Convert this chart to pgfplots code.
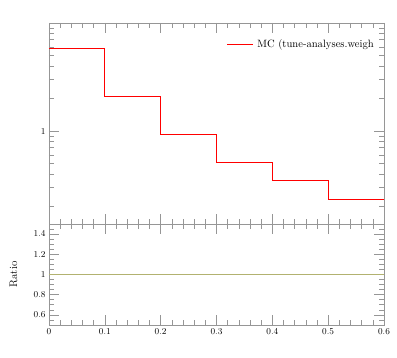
\documentclass[border=0pt]{standalone}
\usepackage{pgfplots}
\pgfplotsset{compat=1.18}
\definecolor{axgray}{RGB}{150,150,150}
\definecolor{ratiocol}{RGB}{178,178,112}
\begin{document}
\begin{tikzpicture}[x=1pt,y=1pt]
\path[use as bounding box] (-49,-33) rectangle (348,325);
\pgfplotsset{
  every axis/.append style={
    scale only axis, width=335pt,
    xmin=0, xmax=0.6,
    axis line style={axgray},
    every tick/.style={axgray, line width=0.6pt},
    tick align=inside,
    major tick length=10pt, minor tick length=5pt,
    xtick={0,0.1,...,0.6},
    minor xtick={0.02,0.04,0.06,0.08,0.12,0.14,0.16,0.18,0.22,0.24,0.26,0.28,0.32,0.34,0.36,0.38,0.42,0.44,0.46,0.48,0.52,0.54,0.56,0.58},
    tick label style={font=\small},
  }
}
\begin{axis}[
  at={(0,101pt)}, anchor=south west,
  height=201pt,
  ymode=log, ymin=0.138, ymax=10,
  xticklabels={},
  ytick={1}, yticklabels={1},
  minor ytick={0.2,0.3,0.4,0.5,0.6,0.7,0.8,0.9,2,3,4,5,6,7,8,9},
  legend image code/.code={\draw[#1] (0pt,0pt) -- (26pt,0pt);},
  legend style={draw=none, fill=none, at={(0.531,0.895)}, anchor=west, inner sep=0pt,
    font=\fontsize{10.6}{13}\selectfont, legend cell align=left,
    nodes={inner sep=3.5pt}},
  clip=false,
]
\addplot[red, line width=0.8pt, const plot mark left] coordinates {
  (0,5.83) (0.1,2.08) (0.2,0.924) (0.3,0.516) (0.4,0.347) (0.5,0.235) (0.6,0.235)
};
\addlegendentry{MC (tune-analyses.weigh\kern-0.5pt}
\end{axis}
\begin{axis}[
  at={(0,0)}, anchor=south west,
  height=101pt,
  ymin=0.5, ymax=1.5,
  ytick={0.6,0.8,1,1.2,1.4},
  minor ytick={0.55,0.65,0.7,0.75,0.85,0.9,0.95,1.05,1.1,1.15,1.25,1.3,1.35,1.45},
  xticklabels={0,0.1,0.2,0.3,0.4,0.5,0.6},
  ylabel={Ratio}, ylabel style={font=\fontsize{11}{13}\selectfont, at={(axis description cs:-0.084,0.5)}},
  yticklabel style={/pgf/number format/fixed},
]
\addplot[ratiocol, line width=0.8pt] coordinates {(0,1) (0.6,1)};
\end{axis}
\end{tikzpicture}
\end{document}
